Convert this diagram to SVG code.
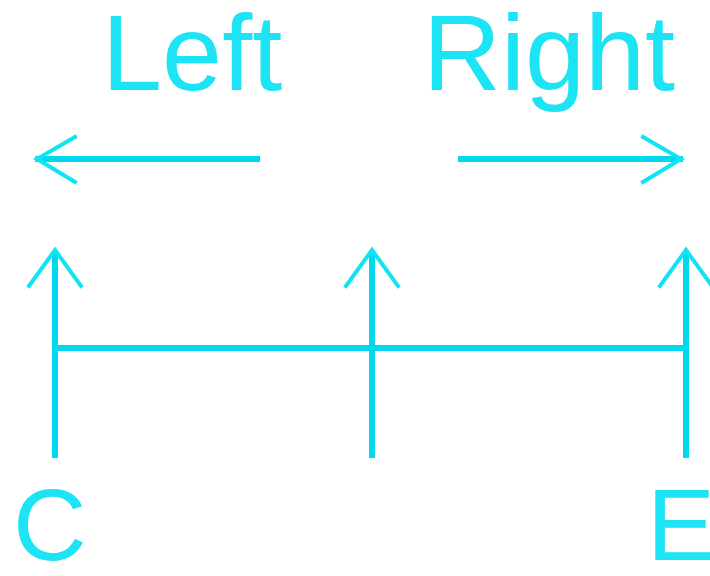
<svg xmlns="http://www.w3.org/2000/svg" width="710" height="576" viewBox="0 0 710 576">
<style>
.t{font-family:"Liberation Sans",Arial,sans-serif;fill:#1ce4f4;}
.l{stroke:#00d8f0;stroke-width:6;fill:none;}
.h{stroke:#10e4f4;stroke-width:4;fill:none;stroke-linecap:square;}
</style>
<rect width="710" height="576" fill="#ffffff"/>
<g id="label-left"><text class="t" x="102" y="90" font-size="108">Left</text></g>
<g id="label-right"><text class="t" x="423" y="90" font-size="108">Right</text></g>
<g id="node-c"><text class="t" x="13" y="560" font-size="102">C</text></g>
<g id="node-e"><text class="t" x="647" y="560" font-size="102">E</text></g>
<g id="connectors">
<line class="l" x1="35" y1="159" x2="260" y2="159"/>
<polyline class="h" points="75,137 37,159 75,182"/>
<line class="l" x1="458" y1="159" x2="683" y2="159"/>
<polyline class="h" points="643,137 681,159 643,182"/>
<line class="l" x1="55" y1="252" x2="55" y2="458"/>
<polyline class="h" points="29,286 55,250 81,286"/>
<line class="l" x1="372" y1="252" x2="372" y2="458"/>
<polyline class="h" points="346,286 372,250 398,286"/>
<line class="l" x1="686" y1="252" x2="686" y2="458"/>
<polyline class="h" points="660,286 686,250 712,286"/>
<line class="l" x1="55" y1="348" x2="686" y2="348" stroke-width="7"/>
</g>
</svg>
